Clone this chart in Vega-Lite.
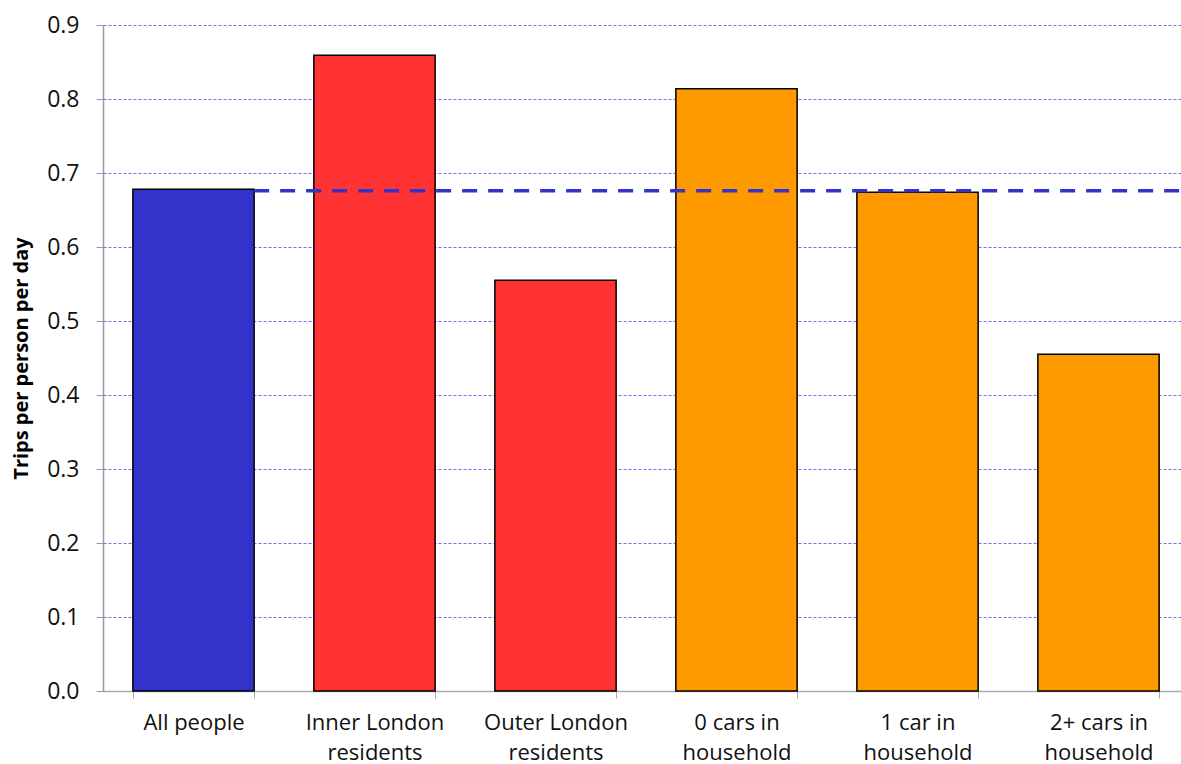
{
  "$schema": "https://vega.github.io/schema/vega-lite/v6.json",
  "width": 1078,
  "height": 666,
  "autosize": {"type": "none"},
  "padding": {"left": 103, "top": 25, "right": 0, "bottom": 73},
  "background": "white",
  "config": {
    "view": {"stroke": null},
    "font": "Open Sans"
  },
  "datasets": {
    "bars": [
      {"category": "All people", "group": "all", "trips": 0.678},
      {"category": "Inner London|residents", "group": "area", "trips": 0.859},
      {"category": "Outer London|residents", "group": "area", "trips": 0.555},
      {"category": "0 cars in|household", "group": "cars", "trips": 0.814},
      {"category": "1 car in|household", "group": "cars", "trips": 0.674},
      {"category": "2+ cars in|household", "group": "cars", "trips": 0.455}
    ],
    "avg": [
      {"category": "All people", "trips": 0.676}
    ]
  },
  "layer": [
    {
      "data": {"name": "bars"},
      "mark": {"type": "bar", "stroke": "#000000", "strokeWidth": 1.5},
      "encoding": {
        "x": {
          "field": "category",
          "type": "nominal",
          "scale": {
            "domain": ["All people", "Inner London|residents", "Outer London|residents", "0 cars in|household", "1 car in|household", "2+ cars in|household"],
            "range": [0, 1086],
            "paddingInner": 0.33,
            "paddingOuter": 0.165
          },
          "axis": {
            "title": null,
            "labelAngle": 0,
            "labelExpr": "split(datum.label, '|')",
            "labelFontSize": 22,
            "labelFont": "Open Sans",
            "labelColor": "#111111",
            "labelLineHeight": 30,
            "labelPadding": 14,
            "labelBaseline": "top",
            "tickBand": "extent",
            "tickSize": 7,
            "tickColor": "#aaaaaa",
            "domainColor": "#aaaaaa",
            "domainWidth": 1.5,
            "grid": false
          }
        },
        "y": {
          "field": "trips",
          "type": "quantitative",
          "scale": {"domain": [0, 0.9], "nice": false},
          "axis": {
            "title": "Trips per person per day",
            "titleFontSize": 20,
            "titleFontWeight": "bold",
            "titleFont": "Open Sans",
            "titleColor": "#000000",
            "titlePadding": 15,
            "values": [0, 0.1, 0.2, 0.3, 0.4, 0.5, 0.6, 0.7, 0.8, 0.9],
            "format": ".1f",
            "labelFontSize": 23,
            "labelFont": "Open Sans",
            "labelColor": "#111111",
            "labelPadding": 17,
            "tickSize": 7,
            "tickColor": "#999999",
            "domainColor": "#999999",
            "domainWidth": 1.5,
            "grid": true,
            "gridColor": "#7b68ee",
            "gridOpacity": 1,
            "gridDash": [3, 2],
            "gridWidth": 1
          }
        },
        "color": {
          "field": "group",
          "type": "nominal",
          "scale": {"domain": ["all", "area", "cars"], "range": ["#3333CC", "#FF3333", "#FF9900"]},
          "legend": null
        }
      }
    },
    {
      "data": {"name": "avg"},
      "mark": {"type": "rule", "color": "#3333CC", "strokeWidth": 3.5, "strokeDash": [15, 11]},
      "encoding": {
        "x": {"field": "category", "type": "nominal", "bandPosition": 1},
        "x2": {"value": "width"},
        "y": {"field": "trips", "type": "quantitative"}
      }
    }
  ]
}
